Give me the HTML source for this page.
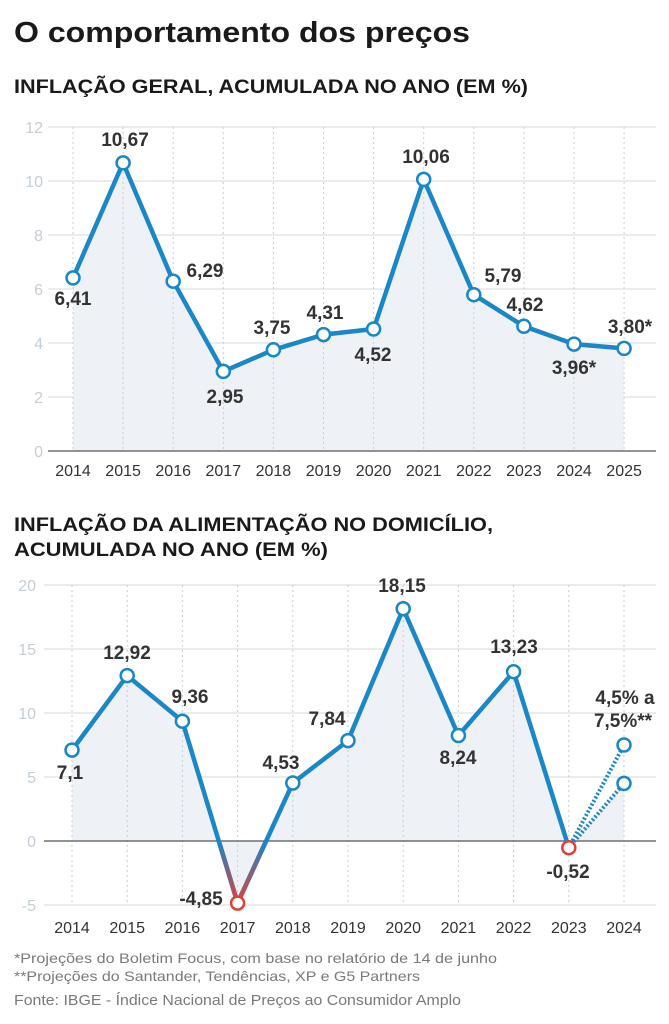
<!DOCTYPE html>
<html><head><meta charset="utf-8"><style>
html,body{margin:0;padding:0;background:#fff}
svg{display:block}
text{font-family:"Liberation Sans",sans-serif}
</style></head><body>
<svg width="669" height="1024" viewBox="0 0 669 1024" xmlns="http://www.w3.org/2000/svg">
<defs>
<linearGradient id="g" gradientUnits="userSpaceOnUse" x1="0" y1="841" x2="0" y2="903">
<stop offset="0" stop-color="#1a87c9"/><stop offset="1" stop-color="#e0403a"/></linearGradient>
</defs>
<text x="14" y="42" font-size="29" font-weight="bold" fill="#1a1a1a" textLength="456" lengthAdjust="spacingAndGlyphs">O comportamento dos preços</text>
<text x="14" y="93" font-size="19" font-weight="bold" fill="#1a1a1a" textLength="514" lengthAdjust="spacingAndGlyphs">INFLAÇÃO GERAL, ACUMULADA NO ANO (EM %)</text>

<g stroke="#dde2e7" stroke-width="1.2">
<line x1="48" x2="656" y1="127" y2="127"/><line x1="48" x2="656" y1="181" y2="181"/>
<line x1="48" x2="656" y1="235" y2="235"/><line x1="48" x2="656" y1="289" y2="289"/>
<line x1="48" x2="656" y1="343" y2="343"/><line x1="48" x2="656" y1="397" y2="397"/>
</g>
<polygon fill="#eef1f5" points="73,451 73,277.9 123.1,162.9 173.2,281.2 223.3,371.4 273.4,349.8 323.5,334.6 373.6,329 423.7,179.4 473.8,294.7 523.9,326.3 574,344.1 624.1,348.4 624.1,451"/>
<g stroke="#c8ced5" stroke-width="1" stroke-dasharray="2,3">
<line x1="73" x2="73" y1="127" y2="451"/><line x1="123.1" x2="123.1" y1="127" y2="451"/><line x1="173.2" x2="173.2" y1="127" y2="451"/><line x1="223.3" x2="223.3" y1="127" y2="451"/><line x1="273.4" x2="273.4" y1="127" y2="451"/><line x1="323.5" x2="323.5" y1="127" y2="451"/><line x1="373.6" x2="373.6" y1="127" y2="451"/><line x1="423.7" x2="423.7" y1="127" y2="451"/><line x1="473.8" x2="473.8" y1="127" y2="451"/><line x1="523.9" x2="523.9" y1="127" y2="451"/><line x1="574" x2="574" y1="127" y2="451"/><line x1="624.1" x2="624.1" y1="127" y2="451"/>
</g>
<line x1="48" x2="656" y1="451" y2="451" stroke="#555" stroke-width="1.3"/>
<g font-size="16" fill="#c5cdd5" text-anchor="end">
<text x="43" y="133">12</text><text x="43" y="187">10</text><text x="43" y="241">8</text><text x="43" y="295">6</text><text x="43" y="349">4</text><text x="43" y="403">2</text><text x="43" y="457">0</text>
</g>
<polyline fill="none" stroke="#1a87c9" stroke-width="4.5" stroke-linejoin="round" points="73,277.9 123.1,162.9 173.2,281.2 223.3,371.4 273.4,349.8 323.5,334.6 373.6,329 423.7,179.4 473.8,294.7 523.9,326.3 574,344.1 624.1,348.4"/>
<g fill="#fff" stroke="#1a87c9" stroke-width="2.5">
<circle cx="73" cy="277.9" r="6.5"/><circle cx="123.1" cy="162.9" r="6.5"/><circle cx="173.2" cy="281.2" r="6.5"/><circle cx="223.3" cy="371.4" r="6.5"/><circle cx="273.4" cy="349.8" r="6.5"/><circle cx="323.5" cy="334.6" r="6.5"/><circle cx="373.6" cy="329" r="6.5"/><circle cx="423.7" cy="179.4" r="6.5"/><circle cx="473.8" cy="294.7" r="6.5"/><circle cx="523.9" cy="326.3" r="6.5"/><circle cx="574" cy="344.1" r="6.5"/><circle cx="624.1" cy="348.4" r="6.5"/>
</g>
<g font-size="19" font-weight="bold" fill="#333" text-anchor="middle">
<text x="73" y="305">6,41</text><text x="125" y="146">10,67</text><text x="205" y="277">6,29</text><text x="225" y="403">2,95</text><text x="272" y="334">3,75</text><text x="325" y="319">4,31</text><text x="373" y="361">4,52</text><text x="426" y="163">10,06</text><text x="503" y="282">5,79</text><text x="525" y="311">4,62</text><text x="574" y="374">3,96*</text><text x="630" y="333">3,80*</text>
</g>
<g font-size="16" fill="#333" text-anchor="middle">
<text x="73" y="476">2014</text><text x="123.1" y="476">2015</text><text x="173.2" y="476">2016</text><text x="223.3" y="476">2017</text><text x="273.4" y="476">2018</text><text x="323.5" y="476">2019</text><text x="373.6" y="476">2020</text><text x="423.7" y="476">2021</text><text x="473.8" y="476">2022</text><text x="523.9" y="476">2023</text><text x="574" y="476">2024</text><text x="624.1" y="476">2025</text>
</g>

<text x="14" y="531" font-size="19" font-weight="bold" fill="#1a1a1a" textLength="479" lengthAdjust="spacingAndGlyphs">INFLAÇÃO DA ALIMENTAÇÃO NO DOMICÍLIO,</text>
<text x="14" y="556" font-size="19" font-weight="bold" fill="#1a1a1a" textLength="314" lengthAdjust="spacingAndGlyphs">ACUMULADA NO ANO (EM %)</text>

<g stroke="#dde2e7" stroke-width="1.2">
<line x1="44" x2="656" y1="585" y2="585"/><line x1="44" x2="656" y1="649" y2="649"/><line x1="44" x2="656" y1="713" y2="713"/><line x1="44" x2="656" y1="777" y2="777"/><line x1="44" x2="656" y1="905" y2="905"/>
</g>
<polygon fill="#eef1f5" points="72,841 72,750.1 127.2,675.6 182.4,721.2 237.6,903.1 292.8,783 348,740.6 403.2,608.7 458.4,735.5 513.6,671.7 568.8,847.7 624,783.4 624,841"/>
<g stroke="#c8ced5" stroke-width="1" stroke-dasharray="2,3">
<line x1="72" x2="72" y1="585" y2="905"/><line x1="127.2" x2="127.2" y1="585" y2="905"/><line x1="182.4" x2="182.4" y1="585" y2="905"/><line x1="237.6" x2="237.6" y1="585" y2="905"/><line x1="292.8" x2="292.8" y1="585" y2="905"/><line x1="348" x2="348" y1="585" y2="905"/><line x1="403.2" x2="403.2" y1="585" y2="905"/><line x1="458.4" x2="458.4" y1="585" y2="905"/><line x1="513.6" x2="513.6" y1="585" y2="905"/><line x1="568.8" x2="568.8" y1="585" y2="905"/><line x1="624" x2="624" y1="585" y2="905"/>
</g>
<line x1="44" x2="656" y1="841" y2="841" stroke="#555" stroke-width="1.3"/>
<g font-size="16" fill="#c5cdd5" text-anchor="end">
<text x="36" y="591">20</text><text x="36" y="655">15</text><text x="36" y="719">10</text><text x="36" y="783">5</text><text x="36" y="847">0</text><text x="36" y="911">-5</text>
</g>
<polyline fill="none" stroke="#1a87c9" stroke-width="4.5" stroke-linejoin="round" points="72,750.1 127.2,675.6 182.4,721.2 237.6,903.1 292.8,783 348,740.6 403.2,608.7 458.4,735.5 513.6,671.7 568.8,847.7"/>
<polyline fill="none" stroke="url(#g)" stroke-width="4.6" stroke-linejoin="round" points="218.8,841 237.6,903.1 266.1,841"/>
<g stroke="#1a87c9" stroke-width="4" stroke-dasharray="2,2" fill="none">
<line x1="568.8" y1="847.7" x2="624" y2="745"/><line x1="568.8" y1="847.7" x2="624" y2="783.4"/>
</g>
<g fill="#fff" stroke="#1a87c9" stroke-width="2.5">
<circle cx="72" cy="750.1" r="6.5"/><circle cx="127.2" cy="675.6" r="6.5"/><circle cx="182.4" cy="721.2" r="6.5"/><circle cx="292.8" cy="783" r="6.5"/><circle cx="348" cy="740.6" r="6.5"/><circle cx="403.2" cy="608.7" r="6.5"/><circle cx="458.4" cy="735.5" r="6.5"/><circle cx="513.6" cy="671.7" r="6.5"/><circle cx="624" cy="745" r="6.5"/><circle cx="624" cy="783.4" r="6.5"/>
</g>
<g fill="#fff" stroke="#e0403a" stroke-width="2.5">
<circle cx="237.6" cy="903.1" r="6.5"/><circle cx="568.8" cy="847.7" r="6.5"/>
</g>
<g font-size="19" font-weight="bold" fill="#333" text-anchor="middle">
<text x="70" y="779">7,1</text><text x="127" y="659">12,92</text><text x="190" y="703">9,36</text><text x="201" y="905">-4,85</text><text x="281" y="769">4,53</text><text x="327" y="725">7,84</text><text x="402" y="592">18,15</text><text x="458" y="764">8,24</text><text x="514" y="653">13,23</text><text x="568" y="878">-0,52</text><text x="625" y="704">4,5% a</text><text x="623" y="727">7,5%**</text>
</g>
<g font-size="16" fill="#333" text-anchor="middle">
<text x="72" y="933">2014</text><text x="127.2" y="933">2015</text><text x="182.4" y="933">2016</text><text x="237.6" y="933">2017</text><text x="292.8" y="933">2018</text><text x="348" y="933">2019</text><text x="403.2" y="933">2020</text><text x="458.4" y="933">2021</text><text x="513.6" y="933">2022</text><text x="568.8" y="933">2023</text><text x="624" y="933">2024</text>
</g>

<g font-size="14" fill="#7a7a7a">
<text x="14" y="963" textLength="483" lengthAdjust="spacingAndGlyphs">*Projeções do Boletim Focus, com base no relatório de 14 de junho</text>
<text x="14" y="981" textLength="406" lengthAdjust="spacingAndGlyphs">**Projeções do Santander, Tendências, XP e G5 Partners</text>
<text x="14" y="1005" font-size="15" textLength="447" lengthAdjust="spacingAndGlyphs">Fonte: IBGE - Índice Nacional de Preços ao Consumidor Amplo</text>
</g>
</svg>
</body></html>
